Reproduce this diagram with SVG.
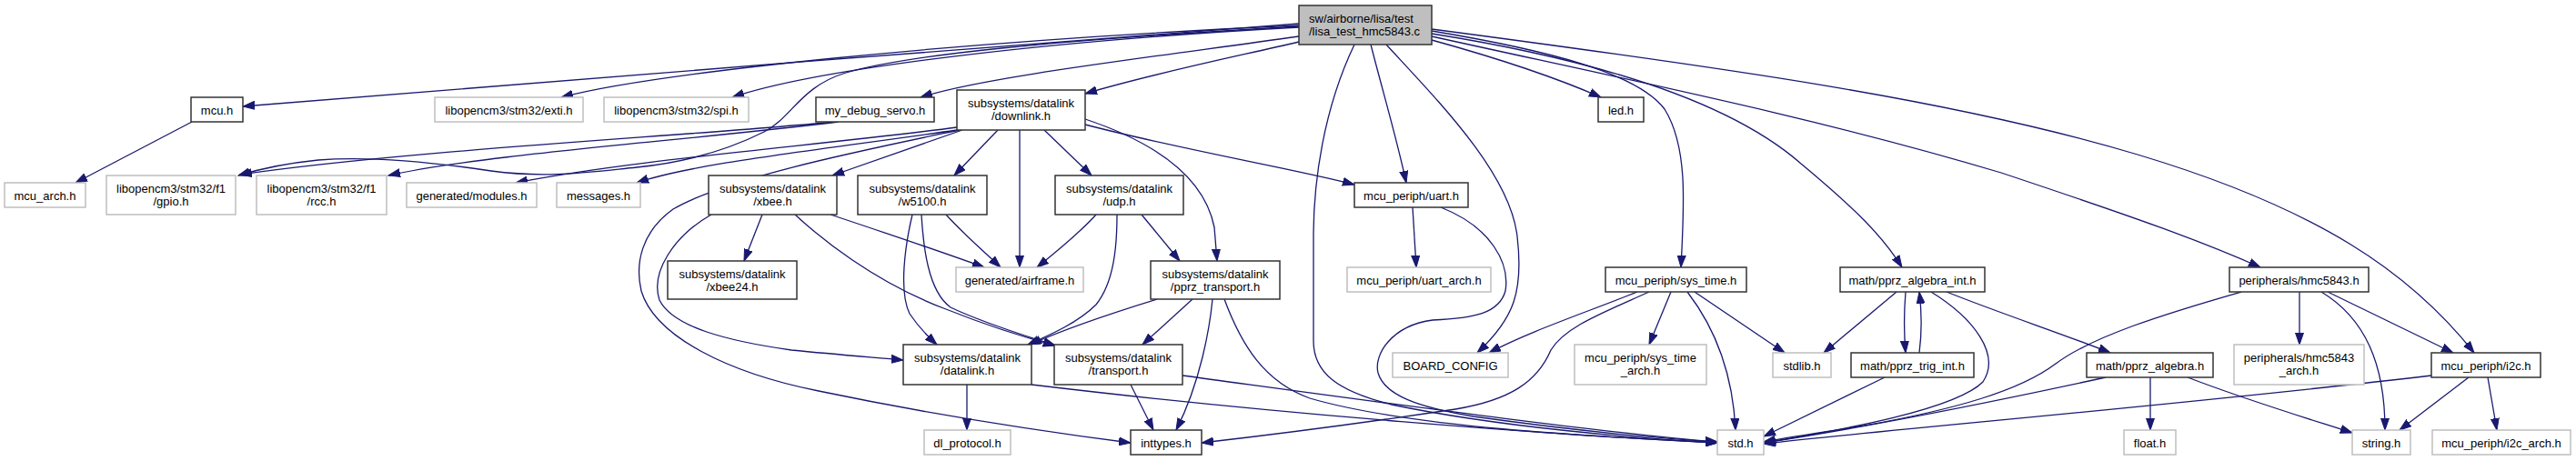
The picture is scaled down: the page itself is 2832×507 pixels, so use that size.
<svg xmlns="http://www.w3.org/2000/svg" width="2832" height="507" viewBox="0 0 2832 507">
<defs>
<style>
.n rect{fill:#fff;stroke:#333;stroke-width:1.5}
.g rect{fill:#fff;stroke:#bfbfbf;stroke-width:1.5}
.r rect{fill:#bfbfbf;stroke:#333;stroke-width:1.5}
text{font-family:"Liberation Sans",Arial,sans-serif;font-size:13px;fill:#000;text-anchor:middle}
.r text{text-anchor:start}
#edges path{fill:none;stroke:#191970;stroke-width:1.3;marker-end:url(#a)}
</style>
<marker id="a" markerWidth="14" markerHeight="10" refX="13" refY="5" orient="auto" markerUnits="userSpaceOnUse"><path d="M0,0.5 L13,5 L0,9.5 z" fill="#191970" stroke="#191970" stroke-width="1"/></marker>
</defs>
<rect width="2832" height="507" fill="#fff"/>
<g id="edges">
<path d="M1428,26 C1150,48 500,96 267,117"/>
<path d="M1428,28 C1050,45 720,80 617,107"/>
<path d="M1428,30 C1150,45 900,75 805,107"/>
<path d="M1428,40 C1250,65 1080,85 1012,107"/>
<path d="M1428,46 C1360,62 1270,80 1193,103"/>
<path d="M1428,29 C1150,45 1000,60 930,80 C880,95 870,130 840,145 C790,170 740,180 700,184 C640,190 600,196 540,188 C460,176 400,172 350,176 C310,180 285,186 262,193"/>
<path d="M1574,44 C1650,65 1710,85 1760,107"/>
<path d="M1507,49 C1520,100 1535,150 1546,201"/>
<path d="M1489,49 C1455,120 1444,200 1444,260 L1444,375 C1444,410 1470,430 1530,445 C1650,470 1800,482 1888,487"/>
<path d="M1524,49 C1580,110 1660,190 1668,260 C1675,320 1665,350 1624,388"/>
<path d="M1574,34 C1700,55 1800,80 1830,120 C1855,160 1852,220 1848,294"/>
<path d="M1574,37 C1750,65 1900,110 1980,180 C2040,230 2070,260 2091,294"/>
<path d="M1574,40 C1800,90 2000,130 2200,190 C2350,240 2420,265 2485,294"/>
<path d="M1574,32 C1900,75 2150,110 2350,170 C2550,230 2650,300 2720,388"/>
<path d="M211,134 L83,201"/>
<path d="M918,134 C750,150 450,165 264,192"/>
<path d="M922,134 C750,155 530,170 427,193"/>
<path d="M1052,140 C900,160 700,175 567,201"/>
<path d="M1052,143 C900,165 760,180 700,201"/>
<path d="M1055,143 C950,165 800,195 740,230 C705,255 698,290 705,320 C720,370 800,410 900,430 C1020,455 1150,475 1243,487"/>
<path d="M1058,143 L915,193"/>
<path d="M1097,143 L1049,193"/>
<path d="M1121,143 L1121,294"/>
<path d="M1148,143 L1200,193"/>
<path d="M1193,131 C1280,160 1325,200 1335,250 L1338,287"/>
<path d="M1193,137 C1300,165 1420,185 1489,203"/>
<path d="M838,236 L818,287"/>
<path d="M782,236 C740,260 715,300 725,330 C740,360 800,375 870,385 C920,390 960,393 993,396"/>
<path d="M874,236 C900,260 960,310 1040,340 C1090,360 1130,372 1160,380"/>
<path d="M913,236 C970,255 1030,275 1082,294"/>
<path d="M1003,236 C995,270 988,320 1000,345 C1010,360 1020,370 1030,379"/>
<path d="M1013,236 C1015,270 1020,320 1045,338 C1080,355 1130,370 1160,380"/>
<path d="M1040,236 C1060,258 1080,275 1100,294"/>
<path d="M1205,236 C1185,258 1160,278 1140,294"/>
<path d="M1228,236 C1228,270 1225,310 1205,335 C1185,355 1155,368 1130,379"/>
<path d="M1255,236 L1297,287"/>
<path d="M1272,329 C1220,345 1170,362 1132,379"/>
<path d="M1311,329 L1256,379"/>
<path d="M1333,329 C1330,360 1320,420 1293,473"/>
<path d="M1346,329 C1365,380 1390,420 1440,438 C1550,470 1750,480 1888,487"/>
<path d="M1243,423 L1268,473"/>
<path d="M1300,413 C1500,440 1750,475 1888,486"/>
<path d="M1063,423 L1063,473"/>
<path d="M1134,423 C1400,455 1700,478 1888,487"/>
<path d="M1553,228 L1557,294"/>
<path d="M1584,228 C1640,250 1660,290 1655,320 C1648,345 1620,350 1575,352 C1530,358 1510,390 1515,410 C1522,435 1560,448 1620,458 C1720,472 1820,482 1888,486"/>
<path d="M1800,321 C1740,345 1680,365 1637,388"/>
<path d="M1813,321 C1760,345 1720,360 1705,385 C1690,420 1660,440 1600,450 C1500,465 1400,478 1321,487"/>
<path d="M1837,321 L1813,379"/>
<path d="M1855,321 C1885,360 1905,410 1908,473"/>
<path d="M1863,321 L1962,388"/>
<path d="M2085,321 L2005,388"/>
<path d="M2095,321 C2093,345 2093,365 2095,388"/>
<path d="M2110,388 C2113,365 2113,345 2110,321"/>
<path d="M2123,321 C2170,350 2200,390 2180,420 C2150,450 2030,472 1939,487"/>
<path d="M2140,321 C2200,345 2270,368 2320,388"/>
<path d="M2072,415 L1939,480"/>
<path d="M2364,415 L2364,473"/>
<path d="M2405,415 C2470,440 2530,458 2586,476"/>
<path d="M2315,415 C2200,440 2050,470 1939,487"/>
<path d="M2464,321 C2380,345 2300,370 2260,400 C2220,430 2150,450 2050,468 C2000,476 1960,482 1939,486"/>
<path d="M2673,413 C2400,445 2100,470 1939,488"/>
<path d="M2528,321 L2528,379"/>
<path d="M2552,321 C2600,350 2622,400 2622,473"/>
<path d="M2559,321 L2697,388"/>
<path d="M2714,415 L2638,473"/>
<path d="M2735,415 L2745,473"/>
</g>
<g id="root" class="r"><rect x="1428" y="6" width="146" height="43"/><text x="1439" y="25">sw/airborne/lisa/test</text><text x="1439" y="39">/lisa_test_hmc5843.c</text></g>
<g id="mcu" class="n"><rect x="210" y="107" width="57" height="27"/><text x="238.5" y="126">mcu.h</text></g>
<g id="exti" class="g"><rect x="478" y="107" width="163" height="27"/><text x="559.5" y="126">libopencm3/stm32/exti.h</text></g>
<g id="spi" class="g"><rect x="664" y="107" width="159" height="27"/><text x="743.5" y="126">libopencm3/stm32/spi.h</text></g>
<g id="mydbg" class="n"><rect x="897" y="107" width="130" height="27"/><text x="962" y="126">my_debug_servo.h</text></g>
<g id="downlink" class="n"><rect x="1052" y="99" width="141" height="44"/><text x="1122.5" y="118">subsystems/datalink</text><text x="1122.5" y="132">/downlink.h</text></g>
<g id="led" class="n"><rect x="1757" y="107" width="50" height="27"/><text x="1782" y="126">led.h</text></g>
<g id="mcu_arch" class="g"><rect x="5" y="201" width="89" height="27"/><text x="49.5" y="220">mcu_arch.h</text></g>
<g id="gpio" class="g"><rect x="117" y="193" width="142" height="43"/><text x="188" y="212">libopencm3/stm32/f1</text><text x="188" y="226">/gpio.h</text></g>
<g id="rcc" class="g"><rect x="282" y="193" width="143" height="43"/><text x="353.5" y="212">libopencm3/stm32/f1</text><text x="353.5" y="226">/rcc.h</text></g>
<g id="modules" class="g"><rect x="447" y="201" width="143" height="27"/><text x="518.5" y="220">generated/modules.h</text></g>
<g id="messages" class="g"><rect x="612" y="201" width="92" height="27"/><text x="658" y="220">messages.h</text></g>
<g id="xbee" class="n"><rect x="779" y="193" width="141" height="43"/><text x="849.5" y="212">subsystems/datalink</text><text x="849.5" y="226">/xbee.h</text></g>
<g id="w5100" class="n"><rect x="943" y="193" width="142" height="43"/><text x="1014" y="212">subsystems/datalink</text><text x="1014" y="226">/w5100.h</text></g>
<g id="udp" class="n"><rect x="1160" y="193" width="141" height="43"/><text x="1230.5" y="212">subsystems/datalink</text><text x="1230.5" y="226">/udp.h</text></g>
<g id="uart" class="n"><rect x="1489" y="201" width="125" height="27"/><text x="1551.5" y="220">mcu_periph/uart.h</text></g>
<g id="xbee24" class="n"><rect x="734" y="287" width="142" height="42"/><text x="805" y="306">subsystems/datalink</text><text x="805" y="320">/xbee24.h</text></g>
<g id="airframe" class="g"><rect x="1051" y="294" width="140" height="27"/><text x="1121" y="313">generated/airframe.h</text></g>
<g id="pprz_transport" class="n"><rect x="1265" y="287" width="142" height="42"/><text x="1336" y="306">subsystems/datalink</text><text x="1336" y="320">/pprz_transport.h</text></g>
<g id="uart_arch" class="g"><rect x="1481" y="294" width="158" height="27"/><text x="1560" y="313">mcu_periph/uart_arch.h</text></g>
<g id="sys_time" class="n"><rect x="1765" y="294" width="155" height="27"/><text x="1842.5" y="313">mcu_periph/sys_time.h</text></g>
<g id="alg_int" class="n"><rect x="2023" y="294" width="159" height="27"/><text x="2102.5" y="313">math/pprz_algebra_int.h</text></g>
<g id="hmc" class="n"><rect x="2451" y="294" width="153" height="27"/><text x="2527.5" y="313">peripherals/hmc5843.h</text></g>
<g id="datalink" class="n"><rect x="993" y="379" width="141" height="44"/><text x="1063.5" y="398">subsystems/datalink</text><text x="1063.5" y="412">/datalink.h</text></g>
<g id="transport" class="n"><rect x="1159" y="379" width="141" height="44"/><text x="1229.5" y="398">subsystems/datalink</text><text x="1229.5" y="412">/transport.h</text></g>
<g id="board" class="g"><rect x="1531" y="388" width="127" height="27"/><text x="1594.5" y="407">BOARD_CONFIG</text></g>
<g id="systime_arch" class="g"><rect x="1731" y="379" width="145" height="44"/><text x="1803.5" y="398">mcu_periph/sys_time</text><text x="1803.5" y="412">_arch.h</text></g>
<g id="stdlib" class="g"><rect x="1949" y="388" width="64" height="27"/><text x="1981" y="407">stdlib.h</text></g>
<g id="trig" class="n"><rect x="2035" y="388" width="135" height="27"/><text x="2102.5" y="407">math/pprz_trig_int.h</text></g>
<g id="alg" class="n"><rect x="2294" y="388" width="139" height="27"/><text x="2363.5" y="407">math/pprz_algebra.h</text></g>
<g id="hmc_arch" class="g"><rect x="2456" y="379" width="143" height="44"/><text x="2527.5" y="398">peripherals/hmc5843</text><text x="2527.5" y="412">_arch.h</text></g>
<g id="i2c" class="n"><rect x="2673" y="388" width="120" height="27"/><text x="2733" y="407">mcu_periph/i2c.h</text></g>
<g id="dl_protocol" class="g"><rect x="1016" y="473" width="95" height="27"/><text x="1063.5" y="492">dl_protocol.h</text></g>
<g id="inttypes" class="n"><rect x="1243" y="473" width="78" height="27"/><text x="1282" y="492">inttypes.h</text></g>
<g id="std" class="g"><rect x="1888" y="473" width="51" height="27"/><text x="1913.5" y="492">std.h</text></g>
<g id="float" class="g"><rect x="2335" y="473" width="57" height="27"/><text x="2363.5" y="492">float.h</text></g>
<g id="string" class="g"><rect x="2586" y="473" width="64" height="27"/><text x="2618" y="492">string.h</text></g>
<g id="i2c_arch" class="g"><rect x="2674" y="473" width="152" height="27"/><text x="2750" y="492">mcu_periph/i2c_arch.h</text></g>
</svg>
